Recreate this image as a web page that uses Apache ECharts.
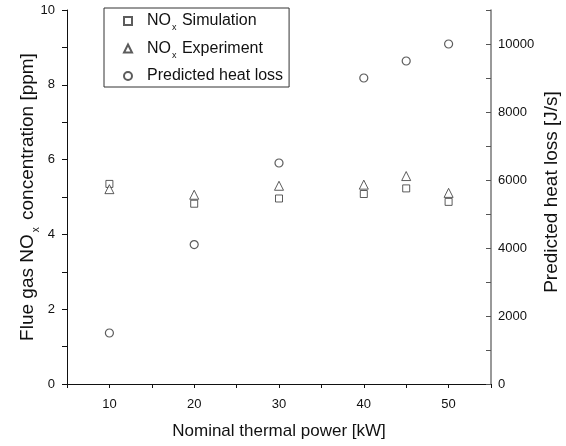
<!DOCTYPE html>
<html><head><meta charset="utf-8">
<script src="https://cdn.jsdelivr.net/npm/echarts@6/dist/echarts.min.js"></script>
<style>html,body{margin:0;padding:0;background:#fff}#c{width:566px;height:446px}</style>
</head><body><div id="c"></div>
<script>
var power = [10, 20, 30, 40, 45, 50];
var noxSimulation = [5.35, 4.82, 4.96, 5.08, 5.23, 4.87];
var noxExperiment = [5.21, 5.06, 5.30, 5.33, 5.56, 5.11];
var heatLoss = [1500, 4100, 6500, 9000, 9500, 10000];
var seriesNames = ['NOx Simulation', 'NOx Experiment', 'Predicted heat loss'];
var legendLabels = ['NO{sub|x} Simulation', 'NO{sub|x} Experiment', 'Predicted heat loss'];
var xTitle = 'Nominal thermal power [kW]';
var yTitle = 'Flue gas NO{sub|x} concentration [ppm]';
var y2Title = 'Predicted heat loss [J/s]';

function pairs(xs, ys) { return xs.map(function (x, i) { return [x, ys[i]]; }); }

var FONT = 'Liberation Sans, Arial, sans-serif';
var legendSub = { fontSize: 9, fontFamily: FONT, color: '#111', verticalAlign: 'bottom', padding: [14, 1, 0, 1] };
var titleSub = { fontSize: 10, fontFamily: FONT, color: '#111', verticalAlign: 'bottom', padding: [17, 2, 0, 2] };
var mk = '#333';
var chart = echarts.init(document.getElementById('c'));
chart.setOption({
  animation: false,
  backgroundColor: '#fff',
  textStyle: { fontFamily: FONT },
  grid: { left: 67, right: 75, top: 10, bottom: 62, outerBoundsMode: 'none' },
  legend: {
    orient: 'vertical', left: 104, top: 8,
    padding: [5, 6, 3, 19],
    itemGap: 8, itemWidth: 8, itemHeight: 8,
    borderColor: '#333', borderWidth: 1,
    data: seriesNames,
    formatter: function (n) { return legendLabels[seriesNames.indexOf(n)]; },
    textStyle: { fontSize: 16, color: '#111', fontFamily: FONT, padding: [0, 0, 0, 10], rich: { sub: legendSub } }
  },
  xAxis: {
    type: 'value', min: 5, max: 55, interval: 5,
    name: xTitle, nameLocation: 'middle', nameGap: 39, nameMoveOverlap: false,
    nameTextStyle: { fontSize: 17, color: '#111', fontFamily: FONT },
    axisLine: { onZero: false, lineStyle: { color: '#111', width: 1 } },
    axisTick: { length: 4, lineStyle: { color: '#111' } },
    axisLabel: { margin: 14, fontSize: 13, color: '#111', formatter: function (v) { return v % 10 === 0 ? String(v) : ''; } },
    splitLine: { show: false }
  },
  yAxis: [{
    type: 'value', min: 0, max: 10, interval: 1,
    name: yTitle, nameLocation: 'middle', nameRotate: 90, nameGap: 26, nameMoveOverlap: false,
    nameTextStyle: { fontSize: 19, color: '#111', fontFamily: FONT, rich: { sub: titleSub } },
    axisLine: { show: true, onZero: false, lineStyle: { color: '#111', width: 1 } },
    axisTick: { show: true, length: 5, lineStyle: { color: '#111' } },
    axisLabel: { margin: 12, fontSize: 13, color: '#111', formatter: function (v) { return v % 2 === 0 ? String(v) : ''; } },
    splitLine: { show: false }
  }, {
    type: 'value', min: 0, max: 11000, interval: 1000, position: 'right',
    name: y2Title, nameLocation: 'middle', nameRotate: 90, nameGap: 51, nameMoveOverlap: false,
    nameTextStyle: { fontSize: 19, color: '#111', fontFamily: FONT, padding: [0, 0, 0, 10] },
    axisLine: { show: true, onZero: false, lineStyle: { color: '#777', width: 1.5 } },
    axisTick: { show: true, inside: true, length: 5, lineStyle: { color: '#555' } },
    axisLabel: { margin: 7, fontSize: 13, color: '#111', formatter: function (v) { return (v % 2000 === 0 && v <= 10000) ? String(v) : ''; } },
    splitLine: { show: false }
  }],
  series: [{
    name: seriesNames[0], type: 'scatter', yAxisIndex: 0,
    symbol: 'rect', symbolSize: 7,
    itemStyle: { color: '#fff', borderColor: mk, borderWidth: 1 },
    data: pairs(power, noxSimulation)
  }, {
    name: seriesNames[1], type: 'scatter', yAxisIndex: 0,
    symbol: 'triangle', symbolSize: 9,
    itemStyle: { color: '#fff', borderColor: mk, borderWidth: 1 },
    data: pairs(power, noxExperiment)
  }, {
    name: seriesNames[2], type: 'scatter', yAxisIndex: 1,
    symbol: 'circle', symbolSize: 8,
    itemStyle: { color: '#fff', borderColor: mk, borderWidth: 1.2 },
    data: pairs(power, heatLoss)
  }]
});
</script></body></html>
